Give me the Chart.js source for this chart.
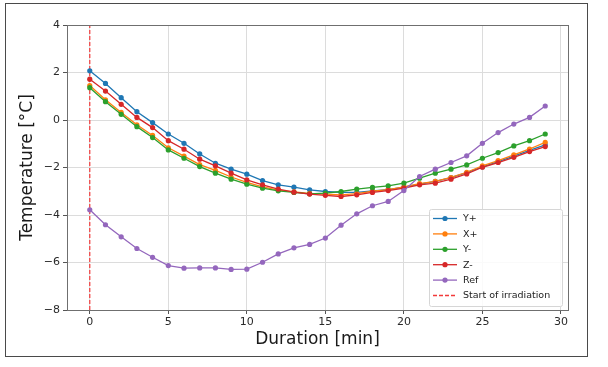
<!DOCTYPE html>
<html>
<head>
<meta charset="utf-8">
<script src="https://cdn.jsdelivr.net/npm/chart.js@4.4.1/dist/chart.umd.min.js"></script>
<style>
  html, body { margin: 0; padding: 0; background: #fff; }
  #wrap { position: relative; width: 608px; height: 367px; }
  #frame { position: absolute; left: 5px; top: 3px; width: 583px; height: 354px; box-sizing: border-box; border: 1.5px solid #4a4a4a; pointer-events: none; }
  canvas { position: absolute; left: 0; top: 0; }
</style>
</head>
<body>
<div id="wrap">
  <canvas id="chart" width="608" height="367"></canvas>
  <div id="frame"></div>
</div>
<script>
// minutes after start
const minutes = [0,1,2,3,4,5,6,7,8,9,10,11,12,13,14,15,16,17,18,19,20,21,22,23,24,25,26,27,28,29];

// temperatures
const yPlus  = [2.07,1.54,0.94,0.35,-0.11,-0.59,-0.98,-1.43,-1.82,-2.07,-2.28,-2.55,-2.73,-2.83,-2.94,-3.01,-3.05,-3.05,-2.98,-2.93,-2.83,-2.70,-2.58,-2.43,-2.22,-1.97,-1.75,-1.52,-1.28,-1.05];
const xPlus  = [1.45,0.85,0.32,-0.20,-0.65,-1.17,-1.52,-1.88,-2.12,-2.40,-2.63,-2.82,-2.95,-3.03,-3.09,-3.12,-3.15,-3.10,-3.00,-2.93,-2.82,-2.68,-2.58,-2.42,-2.20,-1.93,-1.71,-1.47,-1.22,-0.94];
const yMinus = [1.36,0.77,0.24,-0.28,-0.74,-1.26,-1.61,-1.96,-2.24,-2.49,-2.70,-2.87,-2.98,-3.05,-3.11,-3.08,-3.01,-2.91,-2.84,-2.77,-2.66,-2.45,-2.24,-2.07,-1.89,-1.61,-1.37,-1.09,-0.87,-0.59];
const zMinus = [1.72,1.22,0.66,0.11,-0.32,-0.87,-1.23,-1.65,-1.93,-2.24,-2.52,-2.73,-2.91,-3.04,-3.12,-3.17,-3.22,-3.15,-3.05,-2.97,-2.87,-2.73,-2.66,-2.49,-2.27,-1.99,-1.79,-1.57,-1.33,-1.12];
const ref    = [-3.78,-4.41,-4.92,-5.41,-5.78,-6.13,-6.24,-6.23,-6.23,-6.29,-6.28,-5.99,-5.64,-5.38,-5.24,-4.97,-4.43,-3.95,-3.61,-3.43,-2.97,-2.38,-2.07,-1.79,-1.51,-0.98,-0.53,-0.17,0.11,0.59];

const seriesNames = ['Y+', 'X+', 'Y-', 'Z-', 'Ref'];
const seriesColors = ['#1f77b4', '#ff7f0e', '#2ca02c', '#d62728', '#9467bd'];
const startMinute = 0;
const startLabel = 'Start of irradiation';

const xTicks = [0, 5, 10, 15, 20, 25, 30];
const yTicks = [-8, -6, -4, -2, 0, 2, 4];

const allSeries = [yPlus, xPlus, yMinus, zMinus, ref];

const datasets = allSeries.map((vals, i) => ({
    label: seriesNames[i],
    data: minutes.map((m, j) => ({ x: m, y: vals[j] })),
    borderColor: seriesColors[i],
    backgroundColor: seriesColors[i],
    borderWidth: 1.3,
    pointRadius: 2.6,
    pointBorderWidth: 0,
    showLine: true,
    order: 10 - i
}));

datasets.push({
    label: startLabel,
    data: [{ x: startMinute, y: yTicks[0] }, { x: startMinute, y: yTicks[yTicks.length - 1] }],
    borderColor: '#f23a3a',
    backgroundColor: '#f23a3a',
    borderWidth: 1.2,
    borderDash: [4, 2],
    pointRadius: 0,
    showLine: true,
    order: 20
});

const frameBox = {
    id: 'frameBox',
    afterDraw(chart) {
        const { ctx, chartArea: a } = chart;
        ctx.save();
        ctx.strokeStyle = '#6f6f6f';
        ctx.lineWidth = 1;
        ctx.strokeRect(a.left + 0.5, a.top + 0.5, a.right - a.left, a.bottom - a.top);
        ctx.restore();
    }
};

const boxLegend = {
    id: 'boxLegend',
    afterDraw(chart) {
        const ctx = chart.ctx;
        const a = chart.chartArea;
        const bx = a.right - 139, by = a.bottom - 101, bw = 133, bh = 97;
        ctx.save();
        ctx.fillStyle = 'rgba(255,255,255,0.85)';
        ctx.strokeStyle = '#d6d6d6';
        ctx.lineWidth = 1;
        ctx.beginPath();
        ctx.roundRect(bx + 0.5, by + 0.5, bw, bh, 2);
        ctx.fill();
        ctx.stroke();
        ctx.font = '9.5px "DejaVu Sans"';
        ctx.textBaseline = 'middle';
        chart.data.datasets.forEach((ds, i) => {
            const y = by + 9.5 + i * 15.4;
            ctx.strokeStyle = ds.borderColor;
            ctx.lineWidth = ds.borderDash ? 1.4 : 1.3;
            ctx.setLineDash(ds.borderDash || []);
            ctx.beginPath();
            ctx.moveTo(bx + 4, y);
            ctx.lineTo(bx + 28, y);
            ctx.stroke();
            ctx.setLineDash([]);
            if (!ds.borderDash) {
                ctx.fillStyle = ds.borderColor;
                ctx.beginPath();
                ctx.arc(bx + 16, y, 2.6, 0, Math.PI * 2);
                ctx.fill();
            }
            ctx.fillStyle = '#222';
            ctx.fillText(ds.label, bx + 34, y + 0.5);
        });
        ctx.restore();
    }
};

const fmt = v => (v < 0 ? '\u2212' + Math.abs(v) : String(v));

new Chart(document.getElementById('chart'), {
    type: 'scatter',
    data: { datasets },
    options: {
        responsive: false,
        animation: false,
        layout: { padding: { top: 25, right: 40, left: 0, bottom: 0 } },
        plugins: { legend: { display: false }, tooltip: { enabled: false } },
        scales: {
            x: {
                type: 'linear',
                min: -1.45,
                max: 30.45,
                afterBuildTicks: s => { s.ticks = xTicks.map(v => ({ value: v })); },
                afterFit: s => { s.height = 57; },
                grid: { color: '#dcdcdc', tickColor: '#555', tickLength: 4 },
                border: { color: '#6f6f6f' },
                ticks: { color: '#2a2a2a', font: { family: 'DejaVu Sans', size: 11 }, padding: 2, maxRotation: 0, callback: v => fmt(v) },
                title: { display: true, text: 'Duration [min]', color: '#1a1a1a', font: { family: 'DejaVu Sans', size: 17, lineHeight: 1.2 }, padding: { top: 0, bottom: 17 } }
            },
            y: {
                type: 'linear',
                min: yTicks[0],
                max: yTicks[yTicks.length - 1],
                afterBuildTicks: s => { s.ticks = yTicks.map(v => ({ value: v })); },
                afterFit: s => { s.width = 67; },
                grid: { color: '#dcdcdc', tickColor: '#555', tickLength: 4 },
                border: { color: '#6f6f6f' },
                ticks: { color: '#2a2a2a', font: { family: 'DejaVu Sans', size: 11 }, padding: 3, callback: v => fmt(v) },
                title: { display: true, text: 'Temperature [°C]', color: '#1a1a1a', font: { family: 'DejaVu Sans', size: 17, lineHeight: 1.2 }, padding: { top: 17, bottom: 0 } }
            }
        }
    },
    plugins: [frameBox, boxLegend]
});
</script>
</body>
</html>
